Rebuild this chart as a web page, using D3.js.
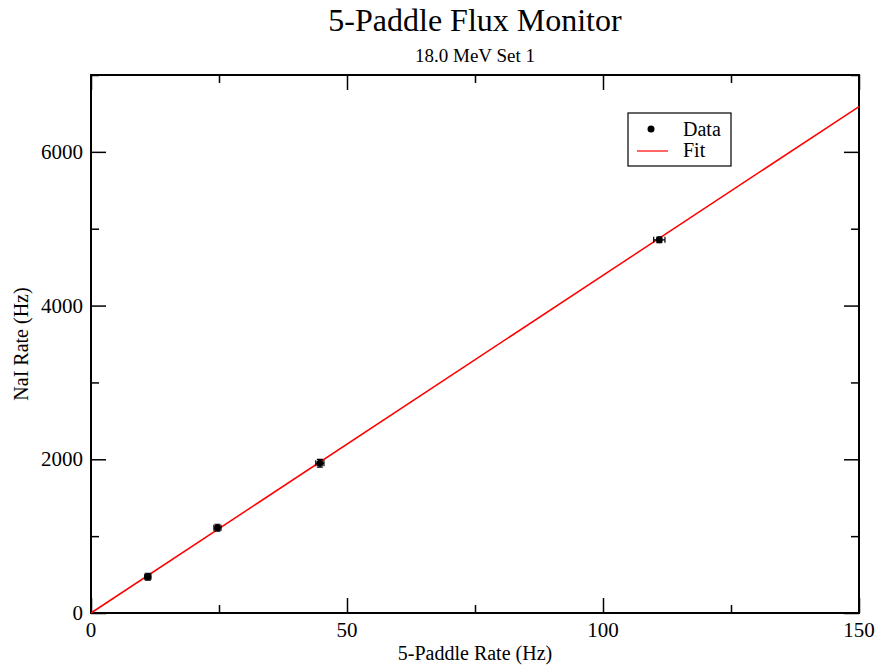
<!DOCTYPE html>
<html>
<head>
<meta charset="utf-8">
<script src="https://cdn.jsdelivr.net/npm/d3@7"></script>
<style>
  body { margin: 0; background: #fff; }
  text { font-family: "Liberation Serif", "Times New Roman", serif; fill: #000; }
</style>
</head>
<body>
<script>
// data
var rateX = [11.1, 24.7, 44.7, 111.0];
var rateY = [472, 1110, 1948, 4855];
var errX = [0.6, 0.7, 0.8, 1.1];
var errY = [45, 45, 50, 35];
var fitX = [0, 150];
var fitY = [0, 6590];
var xTicks = [0, 50, 100, 150];
var yTicks = [0, 2000, 4000, 6000];
var xMinor = [25, 75, 125];
var yMinor = [1000, 3000, 5000, 7000];

var margin = {top: 75, right: 22, bottom: 56, left: 91},
    width = 881 - margin.left - margin.right,
    height = 669 - margin.top - margin.bottom;

var x = d3.scaleLinear().domain([0, 150]).range([0, width]);
var y = d3.scaleLinear().domain([0, 7000]).range([height, 0]);

var root = d3.select("body").append("svg")
    .attr("width", 881)
    .attr("height", 669);

// titles
root.append("text")
    .attr("x", 475).attr("y", 31)
    .attr("text-anchor", "middle")
    .style("font-size", "32px")
    .text("5-Paddle Flux Monitor");
root.append("text")
    .attr("x", 475).attr("y", 62)
    .attr("text-anchor", "middle")
    .style("font-size", "19px")
    .text("18.0 MeV Set 1");

var svg = root.append("g")
    .attr("transform", "translate(" + margin.left + "," + margin.top + ")");

// inward ticks on all four sides
svg.append("g").attr("transform", "translate(0," + height + ")")
    .call(d3.axisTop(x).tickValues(xTicks).tickSize(15).tickFormat(""));
svg.append("g").attr("transform", "translate(0," + height + ")")
    .call(d3.axisTop(x).tickValues(xMinor).tickSize(8).tickFormat(""));
svg.append("g")
    .call(d3.axisBottom(x).tickValues(xTicks).tickSize(15).tickFormat(""));
svg.append("g")
    .call(d3.axisBottom(x).tickValues(xMinor).tickSize(8).tickFormat(""));
svg.append("g")
    .call(d3.axisRight(y).tickValues(yTicks).tickSize(15).tickFormat(""));
svg.append("g")
    .call(d3.axisRight(y).tickValues(yMinor).tickSize(8).tickFormat(""));
svg.append("g").attr("transform", "translate(" + width + ",0)")
    .call(d3.axisLeft(y).tickValues(yTicks).tickSize(15).tickFormat(""));
svg.append("g").attr("transform", "translate(" + width + ",0)")
    .call(d3.axisLeft(y).tickValues(yMinor).tickSize(8).tickFormat(""));
svg.selectAll(".domain").remove();
svg.selectAll(".tick line").attr("stroke", "#000").attr("stroke-width", 1.5);

// tick labels
svg.selectAll(".xlab").data(xTicks).enter().append("text")
    .attr("x", function(d) { return x(d); })
    .attr("y", height + 24)
    .attr("text-anchor", "middle")
    .style("font-size", "21px")
    .text(function(d) { return d; });
svg.selectAll(".ylab").data(yTicks).enter().append("text")
    .attr("x", -8)
    .attr("y", function(d) { return y(d) + 7; })
    .attr("text-anchor", "end")
    .style("font-size", "21px")
    .text(function(d) { return d; });

// frame
svg.append("rect")
    .attr("width", width).attr("height", height)
    .attr("fill", "none").attr("stroke", "#000").attr("stroke-width", 2);

// axis labels
svg.append("text")
    .attr("x", width / 2).attr("y", height + 47)
    .attr("text-anchor", "middle")
    .style("font-size", "20px")
    .text("5-Paddle Rate (Hz)");
svg.append("text")
    .attr("transform", "translate(-63," + (height / 2) + ") rotate(-90)")
    .attr("text-anchor", "middle")
    .style("font-size", "20px")
    .text("NaI Rate (Hz)");

// fit line
var fitData = fitX.map(function(d, i) { return {x: d, y: fitY[i]}; });
svg.append("path")
    .datum(fitData)
    .attr("fill", "none")
    .attr("stroke", "#ff0000")
    .attr("stroke-width", 1.5)
    .attr("d", d3.line().x(function(d) { return x(d.x); }).y(function(d) { return y(d.y); }));

// data with error bars
var pts = rateX.map(function(d, i) {
  return {x: d, y: rateY[i], ex: errX[i], ey: errY[i]};
});
var g = svg.selectAll(".pt").data(pts).enter().append("g");
var cap = 3;
g.append("path")
    .attr("fill", "none").attr("stroke", "#000").attr("stroke-width", 1.2)
    .attr("d", function(d) {
      var cx = x(d.x), cy = y(d.y),
          x0 = x(d.x - d.ex), x1 = x(d.x + d.ex),
          y0 = y(d.y - d.ey), y1 = y(d.y + d.ey);
      return "M" + x0 + "," + cy + "H" + x1 +
             "M" + x0 + "," + (cy - cap) + "V" + (cy + cap) +
             "M" + x1 + "," + (cy - cap) + "V" + (cy + cap) +
             "M" + cx + "," + y0 + "V" + y1 +
             "M" + (cx - cap) + "," + y0 + "H" + (cx + cap) +
             "M" + (cx - cap) + "," + y1 + "H" + (cx + cap);
    });
g.append("circle")
    .attr("cx", function(d) { return x(d.x); })
    .attr("cy", function(d) { return y(d.y); })
    .attr("r", 3.5)
    .attr("fill", "#000");

// legend
var lg = root.append("g").attr("transform", "translate(628,113)");
lg.append("rect")
    .attr("width", 103).attr("height", 53)
    .attr("fill", "#fff").attr("stroke", "#000").attr("stroke-width", 1.2);
lg.append("circle").attr("cx", 23).attr("cy", 16).attr("r", 3.5).attr("fill", "#000");
lg.append("text").attr("x", 55).attr("y", 23).style("font-size", "20px").text("Data");
lg.append("line")
    .attr("x1", 9).attr("x2", 40).attr("y1", 38).attr("y2", 38)
    .attr("stroke", "#ff0000").attr("stroke-width", 1.2);
lg.append("text").attr("x", 55).attr("y", 44).style("font-size", "20px").text("Fit");
</script>
</body>
</html>
